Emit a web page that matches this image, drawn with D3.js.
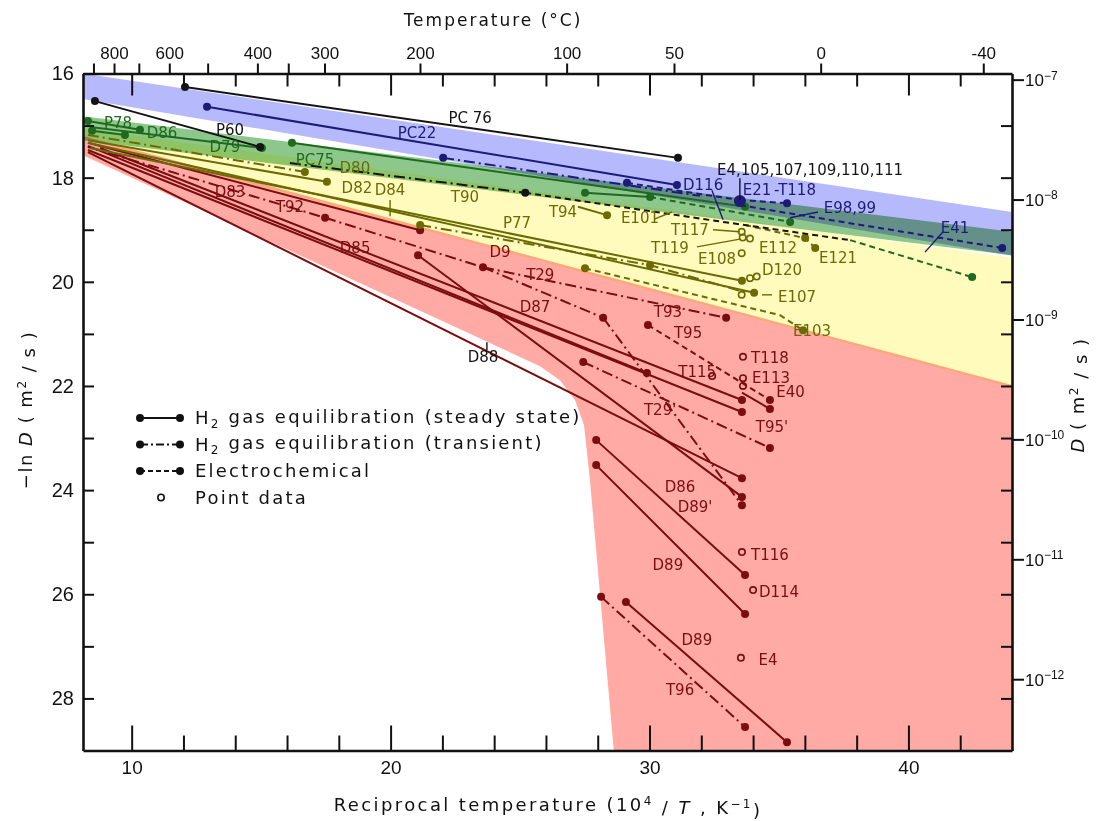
<!DOCTYPE html>
<html><head><meta charset="utf-8">
<script src="https://cdn.jsdelivr.net/npm/d3@7"></script>
<style>
body{margin:0;background:#fff;}
svg{display:block;font-family:"DejaVu Sans","Liberation Sans",sans-serif;}
</style>
</head><body>
<svg id="chart" width="1096" height="821"></svg>
<script>
// ---- data: x = 10^4/T (K^-1), y = -ln D (D in m^2/s) ----

// shaded envelopes
const bandBlue   = [[8.12,16.0],[44.0,18.66],[44.0,19.50],[8.12,16.49]];
const bandGreen  = [[8.12,16.82],[44.0,19.04],[44.0,19.49],[8.12,17.28]];
const bandYellow = [[8.12,17.05],[44.0,19.54],[44.0,22.03],[8.12,17.25]];
const bandRed    = [[8.12,17.20],[44.0,21.98],[44.0,29.0],[28.62,29.0],[27.70,23.81],
                    [27.47,22.75],[27.12,22.27],[26.54,21.89],[25.77,21.62],[8.12,17.57]];

// style: s = steady state, t = transient, e = electrochemical; dots = indices of filled end points
const blackLines = [
  {pts:[[12.06,16.26],[31.10,17.62]], style:"s", dots:[0,1]},
  {pts:[[8.58,16.53],[14.96,17.41]], style:"s", dots:[0,1]},
  {pts:[[16.11,17.72],[25.20,18.29]], style:"t", dots:[1]},
  {pts:[[25.20,18.29],[32.84,18.85],[37.75,19.20]], style:"e", dots:[]}
];
const navyLines = [
  {pts:[[12.91,16.64],[31.06,18.14]], style:"s", dots:[0,1]},
  {pts:[[22.03,17.62],[31.95,18.35]], style:"t", dots:[0]},
  {pts:[[29.13,18.10],[33.49,18.43]], style:"e", dots:[0]},
  {pts:[[33.49,18.43],[35.31,18.49]], style:"e", dots:[1]},
  {pts:[[33.49,18.53],[43.62,19.35]], style:"e", dots:[1]}
];
const greenLines = [
  {pts:[[8.31,16.91],[10.32,17.08]], style:"s", dots:[0,1]},
  {pts:[[8.47,17.10],[9.74,17.18]], style:"s", dots:[0,1]},
  {pts:[[8.47,17.03],[15.03,17.43]], style:"s", dots:[1]},
  {pts:[[16.19,17.33],[33.69,18.56]], style:"s", dots:[0,1]},
  {pts:[[27.51,18.29],[30.02,18.37]], style:"s", dots:[0,1]},
  {pts:[[30.02,18.37],[35.43,18.85]], style:"e", dots:[1]},
  {pts:[[37.75,19.20],[42.46,19.91]], style:"e", dots:[1]}
];
const oliveLines = [
  {pts:[[8.31,17.18],[16.69,17.89]], style:"t", dots:[1]},
  {pts:[[8.31,17.28],[17.54,18.08]], style:"s", dots:[1]},
  {pts:[[8.39,17.43],[33.57,19.98]], style:"s", dots:[1]},
  {pts:[[8.31,17.33],[34.04,20.21]], style:"s", dots:[1]},
  {pts:[[27.24,18.56],[28.36,18.72]], style:"s", dots:[1]},
  {pts:[[21.14,18.91],[30.02,19.68],[33.69,20.20]], style:"t", dots:[0,1]},
  {pts:[[27.51,19.74],[35.04,20.64],[35.93,20.93]], style:"e", dots:[0,2]},
  {pts:[[33.69,18.91],[36.01,19.16],[36.40,19.35]], style:"e", dots:[1,2]}
];
const redLines = [
  {pts:[[8.31,17.33],[21.14,19.01]], style:"s", dots:[1]},
  {pts:[[8.31,17.41],[17.47,18.77]], style:"t", dots:[1]},
  {pts:[[17.47,18.77],[23.57,19.72]], style:"t", dots:[1]},
  {pts:[[23.57,19.72],[28.21,20.69]], style:"t", dots:[1]},
  {pts:[[28.21,20.69],[33.57,24.29]], style:"t", dots:[1]},
  {pts:[[8.31,17.47],[33.57,22.50]], style:"s", dots:[1]},
  {pts:[[8.31,17.51],[33.57,23.77]], style:"s", dots:[1]},
  {pts:[[8.78,17.43],[33.57,22.27]], style:"s", dots:[1]},
  {pts:[[8.31,17.39],[29.90,21.75]], style:"s", dots:[1]},
  {pts:[[21.06,19.49],[33.57,24.13]], style:"s", dots:[0,1]},
  {pts:[[23.57,19.72],[32.96,20.69]], style:"t", dots:[1]},
  {pts:[[29.94,20.83],[34.65,22.27]], style:"e", dots:[0,1]},
  {pts:[[27.44,21.54],[34.65,23.19]], style:"t", dots:[0,1]},
  {pts:[[33.57,22.13],[34.65,22.44]], style:"s", dots:[1]},
  {pts:[[27.94,23.04],[33.69,25.63]], style:"s", dots:[0,1]},
  {pts:[[27.94,23.52],[33.69,26.38]], style:"s", dots:[0,1]},
  {pts:[[29.09,26.15],[35.31,28.84]], style:"s", dots:[0,1]},
  {pts:[[28.13,26.05],[33.69,28.55]], style:"t", dots:[0,1]}
];

// single-point measurements (open circles)
const olivePoints = [[33.56,19.04],[33.60,19.15],[33.88,19.17],[33.56,19.45],[33.88,19.93],[34.14,19.90],[33.56,20.25]];
const redPoints   = [[33.61,21.44],[32.42,21.81],[33.61,21.85],[33.61,22.00],[33.57,25.19],[34.00,25.92],[33.53,27.22]];

// source labels [text, x, y]
const blackLabels = [["PC 76",23.07,16.85],["P60",13.80,17.08],["D88",23.57,21.44],["E4,105,107,109,110,111",36.20,17.85]];
const navyLabels  = [["PC22",21.02,17.14],["D116",32.07,18.14],["E21",34.15,18.24],["-T118",35.62,18.24],["E98,99",37.74,18.58],["E41",41.80,18.97]];
const greenLabels = [["P78",9.47,16.95],["D86",11.17,17.14],["D79",13.60,17.41],["PC75",17.08,17.66]];
const oliveLabels = [["D80",18.62,17.81],["D82",18.70,18.20],["D84",19.98,18.24],["T90",22.87,18.37],["T94",26.66,18.66],
  ["E101",29.63,18.77],["P77",24.88,18.87],["T117",31.56,19.00],["T119",30.79,19.36],["E108",32.61,19.56],["E112",34.96,19.35],
  ["E121",37.28,19.54],["D120",35.12,19.77],["E107",35.70,20.29],["E103",36.28,20.94]];
const redLabels = [["D83",13.80,18.28],["T92",16.11,18.56],["D85",18.63,19.35],["D9",24.23,19.43],["T29",25.78,19.87],
  ["D87",25.58,20.48],["T93",30.71,20.58],["T95",31.49,20.98],["T118",34.65,21.46],["T115",31.84,21.73],["E113",34.69,21.84],
  ["E40",35.45,22.12],["T29'",30.41,22.46],["T95'",34.73,22.79],["D86",31.18,23.94],["D89'",31.76,24.32],["D89",30.71,25.44],
  ["T116",34.65,25.25],["D114",35.00,25.96],["D89",31.83,26.88],["E4",34.58,27.26],["T96",31.18,27.84]];

// leader strokes from labels to their curves [x1, y1, x2, y2]
const blackLeaders = [[33.49,18.01,33.49,18.43],[23.72,21.16,23.72,21.31]];
const navyLeaders  = [[32.41,18.24,32.84,18.81],[36.51,18.66,35.43,18.77],[41.34,19.04,40.64,19.43]];
const oliveLeaders = [[32.45,19.00,33.49,19.04],[31.83,19.33,33.49,19.18],[30.21,18.79,30.87,18.66],
                      [34.34,20.25,34.73,20.25],[19.98,18.43,19.98,18.74]];

// axis ticks
const bottomTicks = d3.range(10, 44, 2);
const bottomLabels = [10, 20, 30, 40];
const leftTicks = d3.range(16, 29, 1);
const leftLabels = [16, 18, 20, 22, 24, 26, 28];
const tempLabelled = [800, 600, 400, 300, 200, 100, 50, 0, -40];
const tempMinor = [900, 700, 500, 350];
const decades = [7, 8, 9, 10, 11, 12];

const legendItems = [
  {text:"gas equilibration (steady state)", h2:true, style:"s"},
  {text:"gas equilibration (transient)", h2:true, style:"t"},
  {text:"Electrochemical", h2:false, style:"e"},
  {text:"Point data", h2:false, style:"p"}
];

// ---- drawing ----
const svg = d3.select("#chart");
const L = 83, R = 1012, T = 73.5, B = 750.5;
const x = d3.scaleLinear().domain([8.12, 44.0]).range([L, R]);
const y = d3.scaleLinear().domain([16, 29]).range([T, B]);
const dashOf = {s:null, t:"11,4,2,4", e:"6,4"};
const colors = {black:"#141414", navy:"#1c1c78", green:"#1f6a1f", olive:"#6d6a05", red:"#7a0d0d"};
const line = d3.line().x(d => x(d[0])).y(d => y(d[1]));

svg.append("defs").append("clipPath").attr("id","plot")
  .append("rect").attr("x",L).attr("y",T).attr("width",R-L).attr("height",B-T);

const bands = svg.append("g").attr("clip-path","url(#plot)").style("isolation","isolate");
[[bandRed,"#ffaaa5"],[bandYellow,"#fffbbd"],[bandGreen,"#8ec78c"],[bandBlue,"#b6b9fb"]].forEach(([p,c]) => {
  bands.append("path").attr("d", line(p) + "Z").attr("fill", c).style("mix-blend-mode","multiply");
});

function drawLines(data, color) {
  const g = svg.append("g");
  data.forEach(d => {
    g.append("path").attr("d", line(d.pts)).attr("fill","none")
      .attr("stroke", color).attr("stroke-width", 2).attr("stroke-dasharray", dashOf[d.style]);
    d.dots.forEach(i => g.append("circle").attr("cx", x(d.pts[i][0])).attr("cy", y(d.pts[i][1]))
      .attr("r", 4).attr("fill", color));
  });
}
function drawPoints(data, color) {
  svg.append("g").selectAll("circle").data(data).join("circle")
    .attr("cx", d => x(d[0])).attr("cy", d => y(d[1])).attr("r", 3.2)
    .attr("fill","none").attr("stroke", color).attr("stroke-width", 1.6);
}
function drawLeaders(data, color) {
  svg.append("g").selectAll("line").data(data).join("line")
    .attr("x1", d => x(d[0])).attr("y1", d => y(d[1])).attr("x2", d => x(d[2])).attr("y2", d => y(d[3]))
    .attr("stroke", color).attr("stroke-width", 1.4);
}
function drawLabels(data, color) {
  svg.append("g").selectAll("text").data(data).join("text")
    .attr("x", d => x(d[1])).attr("y", d => y(d[2]))
    .attr("text-anchor","middle").attr("dominant-baseline","central")
    .attr("font-size", 15).attr("fill", color).text(d => d[0]);
}

drawLines(redLines, colors.red);
drawLines(oliveLines, colors.olive);
drawLines(greenLines, colors.green);
drawLines(navyLines, colors.navy);
drawLines(blackLines, colors.black);
// E21 group marker
svg.append("circle").attr("cx", x(33.49)).attr("cy", y(18.45)).attr("r", 6).attr("fill", colors.navy);
drawPoints(olivePoints, colors.olive);
drawPoints(redPoints, colors.red);
drawLeaders(blackLeaders, colors.black);
drawLeaders(navyLeaders, colors.navy);
drawLeaders(oliveLeaders, colors.olive);
drawLabels(redLabels, colors.red);
drawLabels(oliveLabels, colors.olive);
drawLabels(greenLabels, colors.green);
drawLabels(navyLabels, colors.navy);
drawLabels(blackLabels, colors.black);

// ---- axes ----
const axisColor = "#111";
function styleAxis(g) {
  g.select(".domain").attr("stroke", axisColor).attr("stroke-width", 2.6);
  g.selectAll(".tick line").attr("stroke", axisColor).attr("stroke-width", 2);
  g.selectAll(".tick text").attr("fill", axisColor);
}
const gBottom = svg.append("g").attr("transform", `translate(0,${B})`)
  .call(d3.axisBottom(x).tickValues(bottomTicks).tickSize(-15).tickSizeOuter(0).tickPadding(10)
    .tickFormat(d => bottomLabels.includes(d) ? d : ""));
gBottom.selectAll(".tick line").attr("y2", d => d % 10 === 0 ? -25 : -15);
gBottom.selectAll(".tick text").attr("font-size", 19);
styleAxis(gBottom);

const gTop = svg.append("g").attr("transform", `translate(0,${T})`)
  .call(d3.axisTop(x).tickValues(bottomTicks).tickSize(-13).tickSizeOuter(0).tickFormat(""));
gTop.selectAll(".tick line").attr("y2", d => d % 10 === 0 ? 22 : 13);
styleAxis(gTop);

const gTemp = svg.append("g").attr("transform", `translate(0,${T})`)
  .call(d3.axisTop(x).tickValues(tempLabelled.map(t => 1e4/(t+273.15))).tickSize(10).tickPadding(5)
    .tickFormat((d,i) => tempLabelled[i] < 0 ? "-" + Math.abs(tempLabelled[i]) : tempLabelled[i]));
gTemp.select(".domain").remove();
gTemp.selectAll(".tick text").attr("font-size", 17);
styleAxis(gTemp);
const gTempMinor = svg.append("g").attr("transform", `translate(0,${T})`)
  .call(d3.axisTop(x).tickValues(tempMinor.map(t => 1e4/(t+273.15))).tickSize(10).tickFormat(""));
gTempMinor.select(".domain").remove();
styleAxis(gTempMinor);

const gLeft = svg.append("g").attr("transform", `translate(${L},0)`)
  .call(d3.axisLeft(y).tickValues(leftTicks).tickSize(-11).tickSizeOuter(0).tickPadding(9)
    .tickFormat(d => leftLabels.includes(d) ? d : ""));
gLeft.selectAll(".tick text").attr("font-size", 20);
styleAxis(gLeft);

const gRight = svg.append("g").attr("transform", `translate(${R},0)`)
  .call(d3.axisRight(y).tickValues(leftTicks).tickSize(-11).tickSizeOuter(0).tickFormat(""));
styleAxis(gRight);
const gDec = svg.append("g").attr("transform", `translate(${R},0)`)
  .call(d3.axisRight(y).tickValues(decades.map(n => n*Math.LN10)).tickSize(12).tickFormat(""));
gDec.select(".domain").remove();
styleAxis(gDec);
gDec.selectAll(".tick").each(function(d, i) {
  const t = d3.select(this).append("text").attr("x", 13).attr("y", 0).attr("dy","0.35em")
    .attr("font-size", 17).attr("fill", axisColor).attr("text-anchor","start");
  t.append("tspan").text("10");
  t.append("tspan").attr("dy","-0.55em").attr("font-size", 12).text("−" + decades[i]);
});

// axis titles
svg.append("text").attr("x", 493).attr("y", 26).attr("text-anchor","middle").attr("font-size", 17)
  .attr("letter-spacing", 2).attr("fill", axisColor).text("Temperature  (°C)");
const bt = svg.append("text").attr("x", 548).attr("y", 811).attr("text-anchor","middle").attr("font-size", 18)
  .attr("letter-spacing", 2.4).attr("fill", axisColor);
bt.append("tspan").text("Reciprocal   temperature   (10");
bt.append("tspan").attr("dy","-0.5em").attr("font-size", 12).text("4");
bt.append("tspan").attr("dy","0.5em").text(" / ");
bt.append("tspan").attr("font-style","italic").text("T");
bt.append("tspan").text(" , K");
bt.append("tspan").attr("dy","-0.5em").attr("font-size", 12).text("−1");
bt.append("tspan").attr("dy","0.5em").text(")");

const lt = svg.append("text").attr("transform","translate(32,410) rotate(-90)").attr("text-anchor","middle")
  .attr("font-size", 18).attr("letter-spacing", 1.5).attr("fill", axisColor);
lt.append("tspan").text("−ln ");
lt.append("tspan").attr("font-style","italic").text("D");
lt.append("tspan").text(" ( m");
lt.append("tspan").attr("dy","-0.5em").attr("font-size", 12).text("2");
lt.append("tspan").attr("dy","0.5em").text(" / s )");

const rt = svg.append("text").attr("transform","translate(1084,395) rotate(-90)").attr("text-anchor","middle")
  .attr("font-size", 18).attr("letter-spacing", 1.5).attr("fill", axisColor);
rt.append("tspan").attr("font-style","italic").text("D");
rt.append("tspan").text(" ( m");
rt.append("tspan").attr("dy","-0.5em").attr("font-size", 12).text("2");
rt.append("tspan").attr("dy","0.5em").text(" / s )");

// legend
const lg = svg.append("g").attr("transform","translate(140,418)");
legendItems.forEach((it, i) => {
  const row = lg.append("g").attr("transform", `translate(0,${i*26.5})`);
  if (it.style === "p") {
    row.append("circle").attr("cx", 21).attr("cy", 0).attr("r", 3.2).attr("fill","none")
      .attr("stroke", axisColor).attr("stroke-width", 1.6);
  } else {
    row.append("line").attr("x1", 0).attr("x2", 40).attr("y1", 0).attr("y2", 0).attr("stroke", axisColor)
      .attr("stroke-width", 2).attr("stroke-dasharray", it.style === "t" ? "8,3,2,3" : it.style === "e" ? "5,3" : null);
    row.append("circle").attr("cx", 0).attr("r", 4).attr("fill", axisColor);
    row.append("circle").attr("cx", 40).attr("r", 4).attr("fill", axisColor);
  }
  const t = row.append("text").attr("x", 55).attr("y", 0).attr("dy","0.35em").attr("font-size", 18)
    .attr("letter-spacing", 2.2).attr("fill", axisColor);
  if (it.h2) {
    t.append("tspan").text("H");
    t.append("tspan").attr("dy","0.3em").attr("font-size", 12).text("2");
    t.append("tspan").attr("dy","-0.3em").text("  " + it.text);
  } else t.text(it.text);
});
</script>
</body></html>
